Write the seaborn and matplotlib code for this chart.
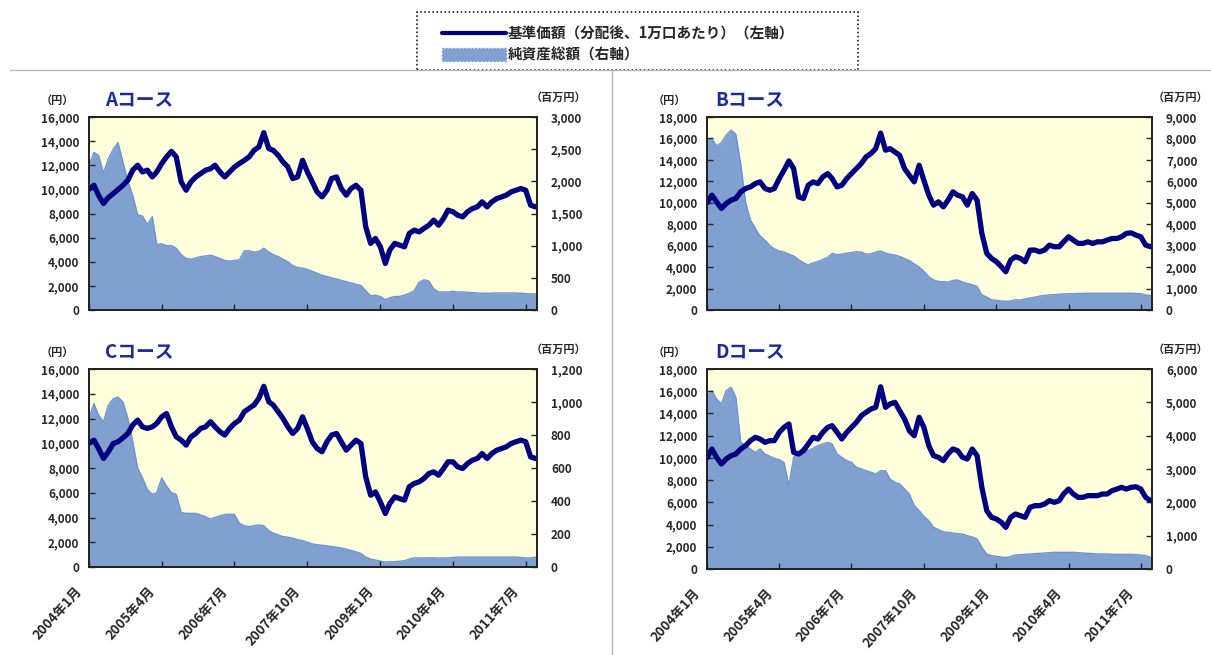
import numpy as np
import pandas as pd
import matplotlib
matplotlib.use("Agg")
import matplotlib.pyplot as plt
import matplotlib.transforms as mtransforms
from matplotlib.lines import Line2D
from matplotlib.patches import Patch, Rectangle
from matplotlib.ticker import FuncFormatter, MultipleLocator
import seaborn as sns

sns.set_style("ticks")
plt.rcParams["font.family"] = ["Noto Sans CJK JP", "DejaVu Sans"]

# ---------------- data (monthly, 2004年1月 .. 2011年9月) ----------------
dates = pd.date_range("2004-01-01", periods=93, freq="MS")

tick_dates = pd.to_datetime(["2004-01-01", "2005-04-01", "2006-07-01", "2007-10-01",
                             "2009-01-01", "2010-04-01", "2011-07-01"])
tick_labels = ["2004年1月", "2005年4月", "2006年7月", "2007年10月",
               "2009年1月", "2010年4月", "2011年7月"]

legend_labels = ["基準価額（分配後、1万口あたり）（左軸）", "純資産総額（右軸）"]
course_titles = ["Aコース", "Bコース", "Cコース", "Dコース"]

nav_a = [10000, 10340, 9500, 8830, 9320, 9650, 9990, 10340, 10760, 11590,
         12000, 11450, 11590, 11030, 11450, 12140, 12690, 13150, 12700, 10620,
         9930, 10620, 11030, 11310, 11590, 11720, 12000, 11450, 11030, 11450,
         11860, 12140, 12410, 12690, 13240, 13520, 14700, 13380, 13240, 12830,
         12280, 11860, 10900, 11030, 12410, 11450, 10620, 9790, 9380, 9930,
         10900, 11030, 10070, 9520, 10070, 10340, 9930, 6900, 5520, 5930,
         5240, 3860, 4970, 5520, 5380, 5240, 6340, 6620, 6480, 6760,
         7030, 7450, 7030, 7590, 8280, 8140, 7860, 7720, 8140, 8410,
         8550, 8970, 8550, 8970, 9240, 9380, 9520, 9790, 9930, 10070,
         9930, 8690, 8550]
aum_a = [2250, 2450, 2400, 2130, 2350, 2500, 2600, 2300, 2000, 1780,
         1480, 1460, 1330, 1450, 1020, 1030, 1000, 1000, 960, 860,
         800, 790, 810, 830, 840, 850, 830, 800, 770, 760,
         770, 780, 920, 920, 900, 910, 960, 900, 860, 830,
         790, 750, 690, 660, 650, 630, 600, 570, 540, 520,
         500, 480, 460, 440, 420, 400, 380, 300, 220, 230,
         210, 160, 190, 210, 210, 230, 260, 300, 430, 470,
         450, 330, 280, 280, 280, 290, 280, 280, 275, 270,
         265, 260, 260, 260, 265, 265, 265, 265, 262, 260,
         255, 250, 250]

nav_b = [10000, 10710, 10090, 9470, 9930, 10240, 10400, 11020, 11330, 11480,
         11790, 11950, 11330, 11170, 11330, 12260, 13030, 13900, 13190, 10550,
         10400, 11640, 11950, 11790, 12410, 12720, 12260, 11480, 11640, 12260,
         12720, 13190, 13660, 14280, 14590, 15050, 16500, 14900, 15050, 14740,
         14430, 13190, 12570, 11950, 13500, 12100, 10710, 9780, 10090, 9620,
         10240, 11020, 10710, 10550, 9780, 10860, 10240, 7140, 5280, 4810,
         4500, 4030, 3570, 4660, 4970, 4810, 4500, 5590, 5590, 5430,
         5590, 6050, 5900, 5900, 6360, 6830, 6520, 6210, 6210, 6360,
         6210, 6360, 6360, 6520, 6670, 6670, 6830, 7140, 7200, 6980,
         6830, 6050, 5900]
aum_b = [7900, 7990, 7650, 7800, 8150, 8380, 8200, 6800, 5000, 4200,
         3800, 3450, 3250, 3000, 2850, 2750, 2700, 2600, 2520, 2350,
         2200, 2100, 2200, 2260, 2350, 2450, 2640, 2580, 2600, 2650,
         2680, 2720, 2700, 2600, 2620, 2700, 2750, 2650, 2600, 2560,
         2500, 2400, 2300, 2150, 2000, 1800, 1550, 1400, 1330, 1320,
         1300, 1380, 1400, 1300, 1240, 1180, 1100, 700, 600, 480,
         450, 420, 400, 420, 480, 460, 520, 560, 600, 650,
         680, 700, 720, 730, 750, 760, 760, 770, 770, 780,
         780, 780, 780, 780, 780, 780, 780, 780, 780, 770,
         760, 700, 680]

nav_c = [10000, 10250, 9580, 8770, 9310, 9980, 10120, 10440, 10790, 11470,
         11870, 11330, 11200, 11330, 11600, 12140, 12400, 11330, 10520, 10250,
         9850, 10520, 10790, 11200, 11330, 11740, 11330, 10930, 10660, 11200,
         11600, 11870, 12550, 12820, 13090, 13630, 14600, 13360, 13090, 12550,
         12010, 11330, 10790, 11200, 12140, 11200, 10120, 9580, 9310, 10120,
         10660, 10790, 10120, 9440, 9850, 10250, 9980, 7280, 5800, 6070,
         5260, 4320, 5130, 5670, 5530, 5400, 6480, 6750, 6880, 7150,
         7550, 7690, 7420, 7960, 8500, 8500, 8090, 7960, 8360, 8630,
         8770, 9170, 8770, 9170, 9440, 9580, 9710, 9980, 10120, 10250,
         10120, 8900, 8770]
aum_c = [900, 990, 920, 880, 980, 1020, 1030, 1000, 900, 760,
         600, 540, 470, 440, 450, 540, 490, 450, 440, 330,
         325, 325, 325, 315, 305, 290, 300, 310, 318, 320,
         318, 265, 250, 245, 250, 255, 250, 220, 205, 195,
         185, 180, 175, 165, 160, 150, 140, 135, 132, 128,
         124, 120, 115, 108, 100, 92, 82, 60, 48, 42,
         35, 30, 32, 32, 35, 38, 48, 55, 55, 55,
         56, 56, 55, 55, 55, 58, 60, 60, 60, 60,
         60, 60, 60, 60, 60, 60, 60, 60, 60, 58,
         55, 55, 60]

nav_d = [10000, 10800, 10050, 9450, 9900, 10200, 10350, 10800, 11100, 11550,
         11850, 11700, 11400, 11550, 11550, 12300, 12750, 13050, 10500, 10350,
         10650, 11250, 11850, 11700, 12300, 12750, 12900, 12300, 11700, 12300,
         12750, 13200, 13800, 14100, 14400, 14550, 16400, 14550, 14850, 15000,
         14250, 13500, 12450, 12000, 13650, 12750, 11100, 10200, 10050, 9750,
         10350, 10800, 10650, 10050, 9900, 10800, 10200, 7350, 5250, 4650,
         4500, 4200, 3750, 4650, 4950, 4800, 4650, 5550, 5700, 5700,
         5850, 6150, 6000, 6150, 6750, 7200, 6750, 6450, 6450, 6600,
         6600, 6600, 6750, 6750, 7050, 7200, 7350, 7200, 7350, 7400,
         7200, 6450, 6150]
aum_d = [5200, 5350, 5100, 4950, 5350, 5450, 5150, 3800, 3700, 3600,
         3500, 3600, 3450, 3380, 3320, 3280, 3200, 2500, 3350, 3500,
         3650, 3550, 3620, 3700, 3750, 3800, 3750, 3450, 3350, 3250,
         3200, 3050, 3000, 2950, 2900, 2850, 2950, 2950, 2700, 2600,
         2550, 2400, 2250, 1900, 1750, 1580, 1450, 1250, 1180, 1120,
         1100, 1080, 1060, 1050, 1000, 960, 900, 650, 450, 400,
         380, 360, 340, 380, 420, 430, 440, 450, 460, 470,
         480, 490, 500, 500, 500, 500, 500, 490, 480, 470,
         460, 450, 450, 450, 440, 440, 440, 440, 440, 430,
         420, 400, 350]

# axis scales (max, step) for left (円) and right (百万円)
left_scale = [(16000, 2000), (18000, 2000), (16000, 2000), (18000, 2000)]
right_scale = [(3000, 500), (9000, 1000), (1200, 200), (6000, 1000)]

# ---------------- styling ----------------
W, H = 1211, 655
NAVY = "#000080"
FILL = "#80a0d0"
EDGE = "#6a94d6"
BG = "#ffffdc"
TITLE_C = "#1c2a9c"

fig = plt.figure(figsize=(W / 100, H / 100), dpi=100)
fig.patch.set_facecolor("white")


def fx(x):
    return x / W


def fy(y):
    return 1 - y / H


def comma(v, p):
    return f"{int(round(v)):,}"


def panel(box, title, nav, aum, lsc, rsc, show_x, title_x, unitl_x, unitr_x, text_y):
    l, t, r, b = box
    ax = fig.add_axes([fx(l), fy(b), (r - l) / W, (b - t) / H])
    ax2 = ax.twinx()
    ax.set_zorder(ax2.get_zorder() + 1)
    ax.patch.set_visible(False)
    ax2.patch.set_visible(True)
    ax2.set_facecolor(BG)

    ax2.fill_between(dates, aum, 0, color=FILL, lw=0)
    sns.lineplot(x=dates, y=aum, ax=ax2, color=EDGE, lw=1.0)
    sns.lineplot(x=dates, y=nav, ax=ax, color=NAVY, lw=3.8)

    ax.set_xlim(dates[0], pd.Timestamp("2011-09-10"))
    ax.set_ylim(0, lsc[0])
    ax2.set_ylim(0, rsc[0])
    ax.yaxis.set_major_locator(MultipleLocator(lsc[1]))
    ax2.yaxis.set_major_locator(MultipleLocator(rsc[1]))
    ax.yaxis.set_major_formatter(FuncFormatter(comma))
    ax2.yaxis.set_major_formatter(FuncFormatter(comma))
    for a in (ax, ax2):
        a.set_xlabel("")
        a.set_ylabel("")
        for s in a.spines.values():
            s.set_color("#222222")
            s.set_linewidth(1.3)
    ax.tick_params(axis="y", direction="in", length=4, width=1, labelsize=8.5, pad=7)
    ax2.tick_params(axis="y", direction="in", length=4, width=1, labelsize=8.5, pad=10)
    for lbl in ax.get_yticklabels() + ax2.get_yticklabels():
        lbl.set_fontweight("bold")
    ax.set_xticks(tick_dates)
    ax.tick_params(axis="x", direction="in", length=4, width=1, pad=0)
    if show_x:
        ax.set_xticklabels(tick_labels, rotation=48, ha="right", va="center",
                           rotation_mode="anchor", fontsize=9.5, fontweight="bold")
        off = mtransforms.ScaledTranslation(-9 / 100, -22 / 100, fig.dpi_scale_trans)
        for lbl in ax.get_xticklabels():
            lbl.set_transform(lbl.get_transform() + off)
    else:
        ax.set_xticklabels([])

    fig.text(fx(title_x), fy(text_y), title, color=TITLE_C, fontsize=13.5,
             fontweight="bold", va="center", ha="left")
    fig.text(fx(unitl_x), fy(text_y), "（円）", fontsize=8, fontweight="bold",
             va="center", ha="center")
    fig.text(fx(unitr_x), fy(text_y - 3), "（百万円）", fontsize=8, fontweight="bold",
             va="center", ha="center")
    return ax


panel((89, 117, 537, 310), course_titles[0], nav_a, aum_a, left_scale[0], right_scale[0],
      False, 105, 57, 558, 100)
panel((707, 117, 1152, 310), course_titles[1], nav_b, aum_b, left_scale[1], right_scale[1],
      False, 715, 669, 1180, 100)
panel((89, 369, 537, 567), course_titles[2], nav_c, aum_c, left_scale[2], right_scale[2],
      True, 105, 57, 558, 352)
panel((707, 369, 1152, 569), course_titles[3], nav_d, aum_d, left_scale[3], right_scale[3],
      True, 715, 669, 1180, 352)

# separators
fig.add_artist(Line2D([fx(10), 1.0], [fy(70), fy(70)], transform=fig.transFigure,
                      color="#b8b8b8", lw=1))
fig.add_artist(Line2D([fx(612), fx(612)], [fy(70), 0.0], transform=fig.transFigure,
                      color="#b8b8b8", lw=1))

# legend box
fig.add_artist(Rectangle((fx(417), fy(70)), (858 - 417) / W, (70 - 12) / H,
                         transform=fig.transFigure, fill=True, fc="white",
                         ec="black", ls=":", lw=1.1))
handles = [Line2D([], [], color=NAVY, lw=3),
           Patch(fc=FILL, ec=EDGE, ls=":", lw=1)]
fig.legend(handles, legend_labels, loc="center left",
           bbox_to_anchor=(fx(436), fy(44)), frameon=False,
           prop={"size": 10.5, "weight": "bold"},
           handlelength=4.4, handleheight=0.9, handletextpad=0.1, labelspacing=0.35,
           borderaxespad=0)

fig.savefig("out.png", dpi=100)
